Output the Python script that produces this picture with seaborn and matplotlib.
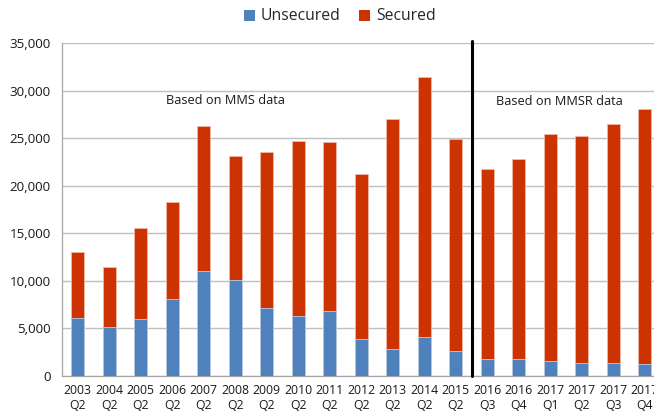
import matplotlib
matplotlib.use("Agg")
import matplotlib.pyplot as plt
import seaborn as sns
import pandas as pd
from matplotlib.patches import Patch
from matplotlib.ticker import FuncFormatter

years = ["2003", "2004", "2005", "2006", "2007", "2008", "2009", "2010", "2011",
         "2012", "2013", "2014", "2015", "2016", "2016", "2017", "2017", "2017", "2017"]
quarters = ["Q2"] * 13 + ["Q3", "Q4", "Q1", "Q2", "Q3", "Q4"]
unsecured = [6050, 5200, 6000, 8050, 11000, 10100, 7200, 6300, 6850,
             3850, 2850, 4100, 2650, 1800, 1750, 1600, 1350, 1350, 1250]
secured = [7000, 6250, 9550, 10250, 15350, 13000, 16400, 18400, 17750,
           17400, 24150, 27400, 22300, 20000, 21100, 23850, 23900, 25150, 26800]
y_ticks = [0, 5000, 10000, 15000, 20000, 25000, 30000, 35000]
series_names = ["Unsecured", "Secured"]
annotations = ["Based on MMS data", "Based on MMSR data"]

BLUE = "#4F81BD"
RED = "#CC3300"

categories = [f"{y}\n{q}" for y, q in zip(years, quarters)]
df = pd.DataFrame({"period": categories, "Unsecured": unsecured, "Secured": secured})
df["Total"] = df["Unsecured"] + df["Secured"]

sns.set_style("white")
plt.rcParams["font.family"] = ["Open Sans", "DejaVu Sans"]

fig = plt.figure(figsize=(6.54, 4.12), dpi=100)
ax = fig.add_axes([62 / 654, 36 / 412, (660.5 - 62) / 654, (376 - 43.3) / 412])

sns.barplot(data=df, x="period", y="Total", color=RED, width=0.41, saturation=1,
            edgecolor="#F2B8A6", linewidth=0.6, ax=ax, zorder=3)
sns.barplot(data=df, x="period", y="Unsecured", color=BLUE, width=0.41, saturation=1,
            edgecolor="#B9CDE5", linewidth=0.6, ax=ax, zorder=4)

ax.set_xlim(-0.5, len(categories) - 0.5)
ax.set_ylim(0, 35000)
ax.set_yticks(y_ticks)
ax.yaxis.set_major_formatter(FuncFormatter(lambda v, p: f"{int(v):,}"))
ax.set_xlabel("")
ax.set_ylabel("")

ax.set_xticks(range(len(categories)))
ax.set_xticklabels(categories, fontsize=8.8, linespacing=1.2, color="#1a1a1a")
ax.set_xticks([i - 0.5 for i in range(len(categories) + 1)], minor=True)
ax.tick_params(axis="x", which="major", length=0, pad=6)
ax.tick_params(axis="x", which="minor", length=5, width=0.8, color="#A6A6A6", direction="out")
ax.tick_params(axis="y", length=5, width=0.8, color="#A6A6A6", direction="out",
               labelsize=9.6, labelcolor="#1a1a1a", pad=3)

ax.grid(axis="y", color="#BFBFBF", linewidth=1.0, zorder=0)
ax.set_axisbelow(True)
for s in ["top", "right"]:
    ax.spines[s].set_visible(False)
for s in ["left", "bottom"]:
    ax.spines[s].set_color("#A6A6A6")
    ax.spines[s].set_linewidth(0.9)

ax.axvline(12.5, ymin=0, ymax=1.007, color="black", linewidth=2.2, clip_on=False, zorder=5)

ax.text(4.7, 28950, annotations[0], fontsize=9.2, ha="center", va="center", color="#1a1a1a")
ax.text(15.3, 28900, annotations[1], fontsize=9.2, ha="center", va="center", color="#1a1a1a")

handles = [Patch(facecolor=BLUE, edgecolor="none"), Patch(facecolor=RED, edgecolor="none")]
fig.legend(handles, series_names, loc="center", bbox_to_anchor=(340 / 654, 1 - 16.5 / 412),
           ncol=2, frameon=False, fontsize=11.3, handlelength=0.7, handleheight=0.7,
           handletextpad=0.35, columnspacing=1.2)

fig.savefig("out.png", dpi=100)
